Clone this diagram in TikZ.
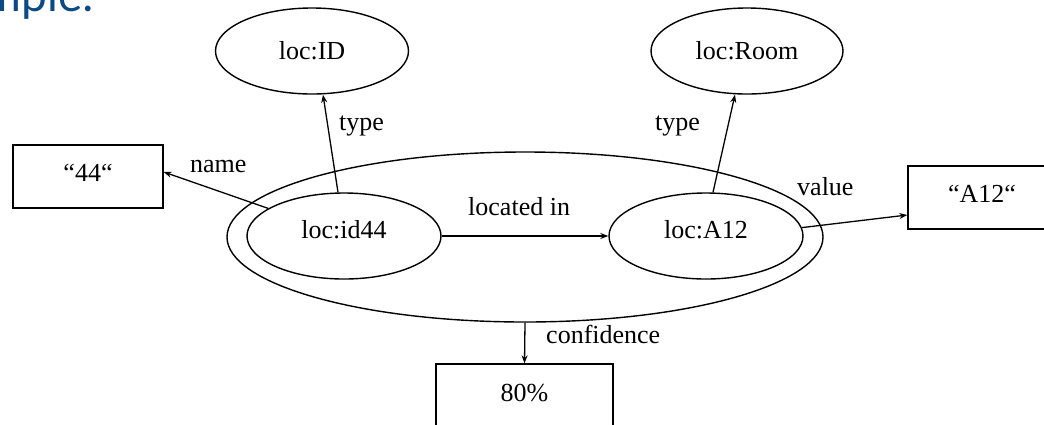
\documentclass[tikz,border=0pt]{standalone}
\usepackage{fontspec}
\setmainfont{Liberation Serif}
\newfontfamily\headfont{Lato}
\usetikzlibrary{arrows.meta,shapes.geometric}
\definecolor{headblue}{RGB}{12,74,134}

\tikzset{
  every node/.style={font=\fontsize{26}{30}\selectfont},
  classnode/.style={draw, ellipse, line width=1.4pt, minimum width=194pt, minimum height=86pt, inner sep=0pt},
  resnode/.style={classnode, text depth=14pt},
  litbox/.style={draw, rectangle, line width=1.4pt, inner sep=0pt, text depth=8pt},
  edge/.style={line width=1.3pt, -{Stealth[length=8pt,width=6pt]}},
  lbl/.style={inner sep=0pt}
}

\begin{document}
\begin{tikzpicture}[x=1pt,y=-1pt]
  \useasboundingbox (0,0) rectangle (1044,424);
  \clip (0,0) rectangle (1044,424);

  % slide heading, mostly above the frame
  \node[anchor=base east, inner sep=0pt, text=headblue, font=\headfont\fontsize{46}{54}\selectfont] (head) at (94,11) {Example:};

  % reified statement
  \node[classnode, minimum width=596pt, minimum height=170pt] (outer) at (525,237) {};

  % resources
  \node[resnode] (id44) at (344,236) {loc:id44};
  \node[resnode] (A12) at (706,236) {loc:A12};

  % classes
  \node[classnode, minimum width=193pt] (ID) at (312,51) {loc:ID};
  \node[classnode, minimum width=192pt] (Room) at (747,51) {loc:Room};

  % literals
  \node[litbox, minimum width=150pt, minimum height=63pt] (q44) at (88,176.5) {“44“};
  \node[litbox, minimum width=148pt, minimum height=63pt] (qA12) at (982,197.5) {“A12“};
  \node[litbox, minimum width=177pt, minimum height=66pt] (conf) at (524.5,397) {80\%};

  % properties
  \draw[edge] ([xshift=-6pt]id44.north) -- ([xshift=11pt]ID.south);
  \draw[edge] ([xshift=7pt]A12.north) -- ([xshift=-12pt]Room.south);
  \draw[edge] (id44.160) -- ([yshift=4.5pt]q44.east);
  \draw[edge] (A12.5) -- ([yshift=-17.5pt]qA12.west);
  \draw[edge] (id44.east) -- (A12.west);
  \draw[edge] (outer.south) -- (conf.north);

  % property labels
  \node[lbl, anchor=base west] (ltype1) at (339,130) {type};
  \node[lbl, anchor=base west] (ltype2) at (655,130) {type};
  \node[lbl, anchor=base west] (lname) at (190,172) {name};
  \node[lbl, anchor=base west] (lvalue) at (797,195) {value};
  \node[lbl, anchor=base west] (lloc) at (468,215) {located in};
  \node[lbl, anchor=base west] (lconf) at (546,343) {confidence};
\end{tikzpicture}
\end{document}
